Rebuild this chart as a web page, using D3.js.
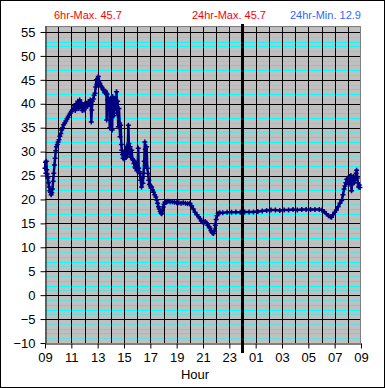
<!DOCTYPE html>
<html>
<head>
<meta charset="utf-8">
<script src="https://cdn.jsdelivr.net/npm/d3@7.9.0/dist/d3.min.js"></script>
<style>
  html, body { margin: 0; padding: 0; background: #fff; }
  svg { display: block; font-family: "Liberation Sans", Arial, sans-serif; }
</style>
</head>
<body>
<div id="chart"></div>
<script>
// ===============================
// DATA (minutes after 09:00, temperature)
// ===============================
const readings = [
  [0,26.5],[2,27.8],[4,25.5],[6,28.0],[8,26.2],[10,25.3],[13,24.5],[16,23.5],[19,22.6],[22,21.8],
  [25,21.5],[28,21.0],[31,21.4],[34,22.2],[37,23.8],[40,25.5],[43,27.2],[46,28.6],[49,30.2],[52,31.0],
  [56,31.5],[60,32.0],[64,32.5],[68,33.2],[72,33.8],[76,34.5],[80,35.0],[85,35.6],[90,36.0],[95,36.4],
  [100,36.8],[105,37.2],[110,37.6],[115,38.0],[120,38.4],[125,38.7],[130,39.0],[134,39.6],[138,38.6],[142,40.0],
  [146,39.2],[150,40.5],[154,39.0],[158,40.8],[162,39.4],[166,40.2],[170,38.6],[174,39.5],[178,38.7],[182,40.0],
  [186,39.2],[190,40.1],[194,39.5],[198,40.4],[202,40.0],[206,40.8],[209,39.8],[211,36.2],[213,38.7],[216,40.5],
  [220,41.0],[224,41.8],[228,42.2],[231,43.5],[234,45.0],[237,44.0],[240,45.2],[243,45.7],[246,44.8],[250,44.3],
  [253,43.8],[256,43.6],[260,43.4],[264,43.0],[268,42.8],[272,42.3],[276,42.6],[280,42.2],[281,36.6],[283,42.0],
  [286,40.8],[289,41.2],[292,40.5],[295,35.0],[298,41.0],[301,40.8],[304,41.1],[306,34.5],[308,41.5],[311,40.2],
  [314,37.5],[317,41.0],[320,40.5],[323,39.0],[326,42.5],[328,38.0],[331,40.5],[334,35.2],[337,39.0],[340,36.0],
  [342,33.1],[345,35.5],[348,31.5],[350,30.3],[353,29.4],[356,28.6],[359,29.5],[362,28.4],[365,30.0],[368,28.8],
  [371,31.0],[374,29.0],[377,30.5],[380,35.5],[382,31.7],[385,29.5],[388,31.0],[391,28.8],[395,30.3],[398,28.5],
  [402,28.2],[405,27.5],[408,28.0],[410,26.8],[413,26.5],[416,27.5],[419,26.0],[422,26.8],[425,30.7],[427,26.5],
  [430,25.8],[433,25.4],[436,24.0],[440,22.6],[443,24.5],[446,23.4],[449,25.5],[452,28.0],[455,32.0],[457,30.5],
  [460,27.0],[463,31.0],[466,26.5],[470,25.4],[473,24.0],[476,23.2],[480,22.8],[483,22.4],[486,22.6],[490,22.0],
  [495,21.5],[500,21.0],[505,20.5],[509,19.9],[513,19.2],[517,18.5],[521,18.0],[525,17.5],[529,17.1],[532,17.0],
  [535,17.6],[539,18.4],[543,19.0],[547,19.4],[551,19.5],[555,19.5],[560,19.6],[570,19.5],[580,19.5],[590,19.4],
  [600,19.3],[610,19.3],[620,19.2],[630,19.3],[640,19.2],[650,19.1],[660,19.2],[668,18.7],[676,18.0],[684,17.3],
  [692,16.8],[700,16.4],[706,16.0],[712,15.5],[718,15.3],[724,15.1],[730,15.4],[736,15.1],[742,14.6],[748,14.3],
  [752,14.0],[756,13.5],[760,13.2],[764,13.0],[768,12.9],[772,13.4],[776,14.6],[780,15.8],[784,16.6],[789,17.1],
  [797,17.2],[810,17.2],[830,17.3],[850,17.3],[870,17.4],[890,17.3],[910,17.4],[930,17.4],[950,17.4],[970,17.5],
  [990,17.6],[1010,17.7],[1030,17.8],[1050,17.8],[1070,17.7],[1090,17.8],[1110,17.8],[1130,17.9],[1150,17.8],[1170,17.9],
  [1190,17.9],[1210,17.9],[1230,17.9],[1250,17.9],[1262,17.8],[1272,17.5],[1282,17.0],[1292,16.6],[1300,16.4],[1306,16.3],
  [1312,16.8],[1320,17.3],[1328,17.8],[1336,18.5],[1344,19.2],[1352,19.8],[1358,21.0],[1363,22.2],[1367,22.8],[1371,23.5],
  [1375,24.2],[1379,23.8],[1382,24.5],[1385,23.2],[1388,24.8],[1391,23.6],[1394,25.0],[1397,21.8],[1400,24.0],[1403,23.4],
  [1406,24.8],[1409,23.5],[1412,24.0],[1415,24.5],[1418,25.5],[1420,26.1],[1423,24.5],[1426,23.5],[1429,22.6],[1432,23.0],
  [1435,22.5]
];

const yTicks = [55, 50, 45, 40, 35, 30, 25, 20, 15, 10, 5, 0, -5, -10];
const xTickLabels = ["09","11","13","15","17","19","21","23","01","03","05","07","09"];
const headerTexts = [
  { text: "6hr-Max. 45.7",  x: 54,  color: "#ff0000" },
  { text: "24hr-Max. 45.7", x: 192, color: "#ff0000" },
  { text: "24hr-Min. 12.9", x: 290, color: "#3366ff" }
];
const midnightMinute = 900;

// ===============================
// SETUP
// ===============================
const width = 385, height = 388;
const plot = { left: 45, right: 361, top: 26, bottom: 343 };

const svg = d3.select("#chart").append("svg")
  .attr("width", width)
  .attr("height", height);

svg.append("rect")
  .attr("x", 0.5).attr("y", 0.5)
  .attr("width", width - 1).attr("height", height - 1)
  .attr("fill", "#fff").attr("stroke", "#000");

const xScale = d3.scaleLinear().domain([0, 1440]).range([plot.left, plot.right]);
const yScale = d3.scaleLinear().domain([-10, 56.25]).range([plot.bottom, plot.top]);

// plot background
svg.append("rect")
  .attr("x", plot.left).attr("y", plot.top)
  .attr("width", plot.right - plot.left).attr("height", plot.bottom - plot.top)
  .attr("fill", "#c0c0c0");

// minor cyan gridlines (every degree), inner ones brighter
svg.append("g")
  .selectAll("line")
  .data(d3.range(-9, 57).filter(v => v % 5 !== 0))
  .join("line")
  .attr("x1", plot.left).attr("x2", plot.right)
  .attr("y1", d => Math.round(yScale(d)) + 0.5)
  .attr("y2", d => Math.round(yScale(d)) + 0.5)
  .attr("stroke", d => (Math.abs(d) % 5 === 2 || Math.abs(d) % 5 === 3) ? "#00ffff" : "#60e0e0");

// vertical hour gridlines
svg.append("g")
  .selectAll("line")
  .data(d3.range(1, 24))
  .join("line")
  .attr("x1", d => Math.round(xScale(d * 60)) + 0.5)
  .attr("x2", d => Math.round(xScale(d * 60)) + 0.5)
  .attr("y1", plot.top).attr("y2", plot.bottom)
  .attr("stroke", "#000");

// major horizontal gridlines
svg.append("g")
  .selectAll("line")
  .data(yTicks.filter(v => v > -10))
  .join("line")
  .attr("x1", plot.left).attr("x2", plot.right)
  .attr("y1", d => Math.round(yScale(d)) + 0.5)
  .attr("y2", d => Math.round(yScale(d)) + 0.5)
  .attr("stroke", "#000");

// plot border (top/right grey)
svg.append("path")
  .attr("d", `M${plot.left},${plot.top + 0.5}H${plot.right - 0.5}V${plot.bottom}`)
  .attr("fill", "none").attr("stroke", "#808080");

// ===============================
// AXES
// ===============================
const yAxis = svg.append("g")
  .attr("transform", `translate(${plot.left + 0.5},0)`)
  .call(d3.axisLeft(yScale).tickValues(yTicks).tickSize(5).tickPadding(5).tickSizeOuter(0));
yAxis.select(".domain").attr("stroke", "#000");
yAxis.selectAll(".tick line").attr("stroke", "#000");
yAxis.selectAll("text")
  .attr("font-family", "Liberation Sans, Arial, sans-serif")
  .attr("font-size", 13).attr("fill", "#000");

const xAxis = svg.append("g")
  .attr("transform", `translate(0,${Math.round(plot.bottom) + 0.5})`)
  .call(d3.axisBottom(xScale)
    .tickValues(d3.range(0, 1441, 120))
    .tickFormat((d, i) => xTickLabels[i])
    .tickSize(5).tickPadding(4).tickSizeOuter(0));
xAxis.select(".domain").attr("stroke", "#000");
xAxis.selectAll(".tick line").attr("stroke", "#000");
xAxis.selectAll("text")
  .attr("font-family", "Liberation Sans, Arial, sans-serif")
  .attr("font-size", 13).attr("fill", "#000");

svg.append("text")
  .attr("x", 195).attr("y", 379)
  .attr("text-anchor", "middle")
  .attr("font-size", 13)
  .text("Hour");

// ===============================
// DATA LINE + MARKERS
// ===============================
const line = d3.line()
  .x(d => xScale(d[0]))
  .y(d => yScale(d[1]));

svg.append("path")
  .datum(readings)
  .attr("d", line)
  .attr("fill", "none")
  .attr("stroke", "#000080")
  .attr("stroke-width", 2.5)
  .attr("stroke-linejoin", "round");

svg.append("g")
  .selectAll("path")
  .data(readings)
  .join("path")
  .attr("transform", d => `translate(${xScale(d[0])},${yScale(d[1])})`)
  .attr("d", "M-2.5,0H2.5M0,-2.5V2.5")
  .attr("stroke", "#000080")
  .attr("stroke-width", 1.5);

// midnight marker
svg.append("line")
  .attr("x1", xScale(midnightMinute)).attr("x2", xScale(midnightMinute))
  .attr("y1", 24).attr("y2", 353)
  .attr("stroke", "#000").attr("stroke-width", 3);

// ===============================
// HEADER
// ===============================
svg.append("g")
  .selectAll("text")
  .data(headerTexts)
  .join("text")
  .attr("x", d => d.x).attr("y", 19)
  .attr("font-size", 11)
  .attr("fill", d => d.color)
  .text(d => d.text);
</script>
</body>
</html>
